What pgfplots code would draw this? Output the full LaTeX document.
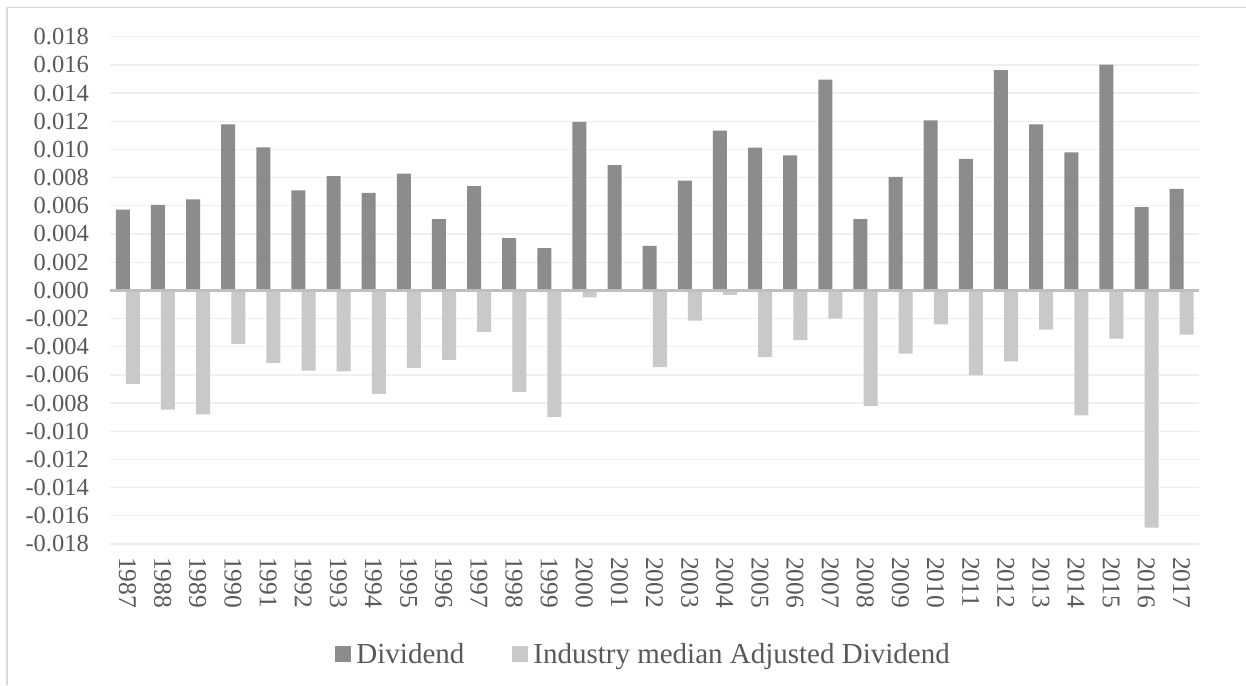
\documentclass[border=0pt]{standalone}
\usepackage{fontspec}
\setmainfont{Liberation Serif}
\usepackage{pgfplots}
\usepackage{pgfplotstable}
\pgfplotsset{compat=1.18}
\definecolor{darkbar}{HTML}{8C8C8C}
\definecolor{lightbar}{HTML}{C9C9C9}
\definecolor{txt}{HTML}{595959}
\definecolor{gridc}{HTML}{EFEFEF}
\definecolor{zeroc}{HTML}{BFBFBF}
\definecolor{framec}{HTML}{D9D9D9}

\pgfplotstableread{
idx year D I
0 1987 0.00572 -0.00663
1 1988 0.00606 -0.00846
2 1989 0.00646 -0.00881
3 1990 0.01178 -0.00380
4 1991 0.01014 -0.00515
5 1992 0.00710 -0.00570
6 1993 0.00810 -0.00575
7 1994 0.00691 -0.00734
8 1995 0.00829 -0.00551
9 1996 0.00506 -0.00494
10 1997 0.00739 -0.00295
11 1998 0.00371 -0.00720
12 1999 0.00299 -0.00898
13 2000 0.01195 -0.00050
14 2001 0.00888 0.00000
15 2002 0.00316 -0.00544
16 2003 0.00779 -0.00214
17 2004 0.01133 -0.00033
18 2005 0.01012 -0.00473
19 2006 0.00957 -0.00354
20 2007 0.01496 -0.00200
21 2008 0.00506 -0.00819
22 2009 0.00805 -0.00449
23 2010 0.01207 -0.00242
24 2011 0.00933 -0.00603
25 2012 0.01563 -0.00504
26 2013 0.01178 -0.00278
27 2014 0.00979 -0.00888
28 2015 0.01601 -0.00342
29 2016 0.00591 -0.01684
30 2017 0.00720 -0.00314
}\data

\begin{document}
\begin{tikzpicture}[x=1pt,y=1pt]
\useasboundingbox (0,0) rectangle (1246,685);
\fill[white] (0,0) rectangle (1246,685);
\draw[framec, line width=1.5pt] (7,0) -- (7,677.5) -- (1246,677.5);
\begin{axis}[
  at={(110pt,141pt)}, anchor=south west,
  scale only axis, width=1089pt, height=507.3pt,
  xmin=-0.5, xmax=30.5, ymin=-0.018, ymax=0.018,
  scaled y ticks=false,
  axis line style={draw=none},
  major tick length=0pt,
  xtick={0,...,30},
  xticklabels={1987,1988,1989,1990,1991,1992,1993,1994,1995,1996,1997,1998,1999,2000,2001,2002,2003,2004,2005,2006,2007,2008,2009,2010,2011,2012,2013,2014,2015,2016,2017},
  xticklabel style={rotate=-90, anchor=west, inner sep=0pt, font=\fontsize{25.5}{28}\selectfont, text=txt},
  xticklabel shift=13pt,
  ytick={-0.018,-0.016,-0.014,-0.012,-0.010,-0.008,-0.006,-0.004,-0.002,0,0.002,0.004,0.006,0.008,0.010,0.012,0.014,0.016,0.018},
  yticklabels={-0.018,-0.016,-0.014,-0.012,-0.010,-0.008,-0.006,-0.004,-0.002,0.000,0.002,0.004,0.006,0.008,0.010,0.012,0.014,0.016,0.018},
  yticklabel style={anchor=east, inner sep=0pt, font=\fontsize{24.5}{28}\selectfont, text=txt},
  yticklabel shift=21pt,
  ymajorgrids, grid style={gridc, line width=1.3pt},
  legend style={at={(0.490,-0.217)}, anchor=center, draw=none, fill=none,
    legend columns=2, font=\fontsize{29}{32}\selectfont, text=txt,
    /tikz/every odd column/.append style={column sep=3pt},
    /tikz/every even column/.append style={column sep=46pt}},
  legend cell align=left,
  clip=false,
]
\addplot[ybar, bar width=14pt, bar shift=-4.8pt, fill=darkbar, draw=none,
  legend image code/.code={\fill[darkbar] (0pt,-8pt) rectangle (16pt,8pt);}]
  table[x=idx, y=D] {\data};
\addlegendentry{Dividend}
\addplot[ybar, bar width=14pt, bar shift=5.3pt, fill=lightbar, draw=none,
  legend image code/.code={\fill[lightbar] (0pt,-8pt) rectangle (16pt,8pt);}]
  table[x=idx, y=I] {\data};
\addlegendentry{Industry median Adjusted Dividend}
\draw[zeroc, line width=2.4pt] (axis cs:-0.5,0) -- (axis cs:30.5,0);
\end{axis}
\end{tikzpicture}
\end{document}
